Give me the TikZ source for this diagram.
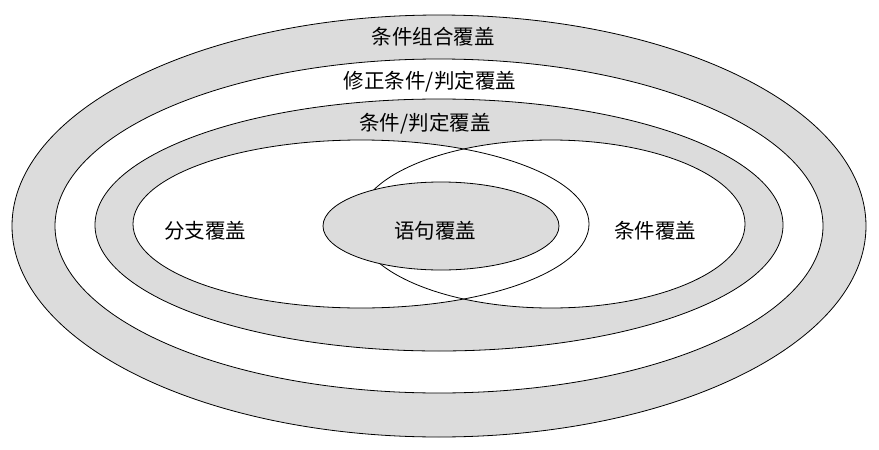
\documentclass[tikz,border=0pt]{standalone}
\usepackage{fontspec}
\newfontfamily\cjk{Noto Sans CJK SC}
\begin{document}
\begin{tikzpicture}[x=1pt,y=-1pt,
  ring/.style={draw=black,line width=0.8pt},
  lab/.style={font=\cjk\fontsize{20.5}{20.5}\selectfont,inner sep=0pt}]
\useasboundingbox (0,0) rectangle (879,450);
\definecolor{g}{HTML}{DCDCDC}
\fill[white] (0,0) rectangle (879,450);
\draw[ring,fill=g] (439,226) ellipse [x radius=427,y radius=211];
\draw[ring,fill=white] (439,226) ellipse [x radius=384,y radius=167];
\draw[ring,fill=g] (439,225) ellipse [x radius=344,y radius=126];
\fill[white] (361,224) ellipse [x radius=228,y radius=84];
\fill[white] (551,224) ellipse [x radius=194,y radius=84];
\draw[ring] (361,224) ellipse [x radius=228,y radius=84];
\draw[ring] (551,224) ellipse [x radius=194,y radius=84];
\draw[ring,fill=g] (441,226) ellipse [x radius=118,y radius=44];
\node[lab] (a) at (433,37) {条件组合覆盖};
\node[lab] (b) at (430,82) {修正条件/判定覆盖};
\node[lab] (c) at (425,124) {条件/判定覆盖};
\node[lab] (d) at (205,231) {分支覆盖};
\node[lab] (e) at (435,231) {语句覆盖};
\node[lab] (f) at (655,231) {条件覆盖};
\end{tikzpicture}
\end{document}
